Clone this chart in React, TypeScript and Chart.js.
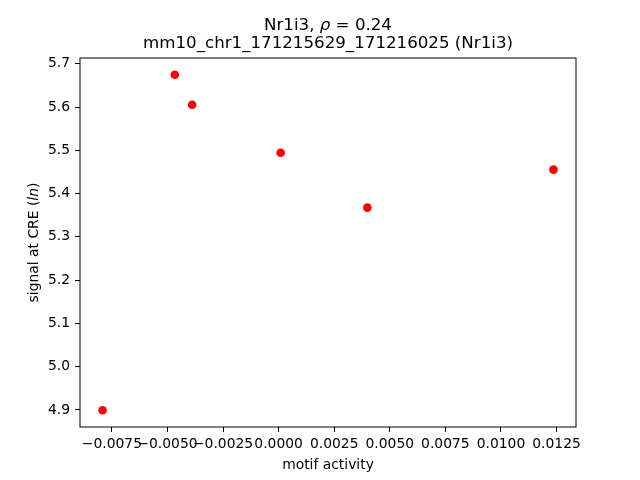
import React, { useEffect, useRef } from "react";
import { Chart, registerables } from "chart.js";

Chart.register(...registerables);

const motifActivity = [-0.00792, -0.00467, -0.00389, 0.00009, 0.00399, 0.01236];
const signalAtCRE = [4.8995, 5.6746, 5.6054, 5.4946, 5.3677, 5.4554];
const xTickValues = [-0.0075, -0.005, -0.0025, 0, 0.0025, 0.005, 0.0075, 0.01, 0.0125];
const yTickValues = [4.9, 5.0, 5.1, 5.2, 5.3, 5.4, 5.5, 5.6, 5.7];
const titleLine1 = [
  { text: "Nr1i3, ", italic: false },
  { text: "ρ", italic: true },
  { text: " = 0.24", italic: false },
];
const titleLine2 = "mm10_chr1_171215629_171216025 (Nr1i3)";
const xLabel = "motif activity";
const yLabel = [
  { text: "signal at CRE (", italic: false },
  { text: "ln", italic: true },
  { text: ")", italic: false },
];

const FONT = "'DejaVu Sans', 'Liberation Sans', sans-serif";

type Seg = { text: string; italic: boolean };

function drawSegs(ctx: CanvasRenderingContext2D, segs: Seg[], x: number, y: number, size: number) {
  let total = 0;
  const widths = segs.map((s) => {
    ctx.font = `${s.italic ? "italic " : ""}${size}px ${FONT}`;
    const w = ctx.measureText(s.text).width;
    total += w;
    return w;
  });
  let cx = x - total / 2;
  ctx.textAlign = "left";
  ctx.textBaseline = "alphabetic";
  segs.forEach((s, i) => {
    ctx.font = `${s.italic ? "italic " : ""}${size}px ${FONT}`;
    ctx.fillText(s.text, cx, y);
    cx += widths[i];
  });
}

const textPlugin = {
  id: "mplText",
  afterDraw(chart: any) {
    const { ctx, chartArea } = chart;
    const { left, right, top, bottom } = chartArea;
    const cx = (left + right) / 2;
    const cy = (top + bottom) / 2;
    ctx.save();
    ctx.strokeStyle = "#000";
    ctx.lineWidth = 1;
    ctx.strokeRect(left, top, right - left, bottom - top);
    ctx.fillStyle = "#000";
    drawSegs(ctx, titleLine1, cx, 30.3, 16.67);
    drawSegs(ctx, [{ text: titleLine2, italic: false }], cx, 48.3, 16.67);
    drawSegs(ctx, [{ text: xLabel, italic: false }], cx, 468.5, 13.89);
    ctx.translate(37.5, cy);
    ctx.rotate(-Math.PI / 2);
    drawSegs(ctx, yLabel, 0, 0, 13.89);
    ctx.restore();
  },
};

function fmtX(v: number) {
  const s = Math.abs(v).toFixed(4);
  return v < -1e-12 ? "\u2212" + s : s;
}

export default function App() {
  const ref = useRef<HTMLCanvasElement | null>(null);
  useEffect(() => {
    if (!ref.current) return;
    const chart = new Chart(ref.current, {
      type: "scatter",
      data: {
        datasets: [
          {
            data: motifActivity.map((x, i) => ({ x, y: signalAtCRE[i] })),
            backgroundColor: "#ff0000",
            borderColor: "#ff0000",
            pointRadius: 4.3,
            pointBorderWidth: 0,
          },
        ],
      },
      plugins: [textPlugin],
      options: {
        animation: false,
        responsive: false,
        devicePixelRatio: 1,
        layout: { padding: { top: 58, right: 64, left: 0, bottom: 0 } },
        plugins: { legend: { display: false }, title: { display: false }, tooltip: { enabled: false } },
        scales: {
          x: {
            type: "linear",
            min: -0.008934,
            max: 0.013374,
            afterFit: (s: any) => {
              s.height = 53;
            },
            afterBuildTicks: (s: any) => {
              s.ticks = xTickValues.map((v) => ({ value: v }));
            },
            border: { display: false },
            grid: { display: true, drawOnChartArea: false, drawTicks: true, tickLength: 5, color: "#000", lineWidth: 1 },
            ticks: {
              autoSkip: false,
              maxRotation: 0,
              minRotation: 0,
              padding: 4,
              color: "#000",
              font: { family: FONT, size: 13.89 },
              callback: (v: any) => fmtX(Number(v)),
            },
          },
          y: {
            type: "linear",
            min: 4.8607,
            max: 5.7134,
            afterFit: (s: any) => {
              s.width = 80;
            },
            afterBuildTicks: (s: any) => {
              s.ticks = yTickValues.map((v) => ({ value: v }));
            },
            border: { display: false },
            grid: { display: true, drawOnChartArea: false, drawTicks: true, tickLength: 5, color: "#000", lineWidth: 1 },
            ticks: {
              padding: 5,
              color: "#000",
              font: { family: FONT, size: 13.89 },
              callback: (v: any) => Number(v).toFixed(1),
            },
          },
        },
      },
    });
    return () => chart.destroy();
  }, []);
  return (
    <div style={{ position: "fixed", left: 0, top: 0, width: 640, height: 480, background: "#fff" }}>
      <canvas ref={ref} width={640} height={480} style={{ display: "block" }} />
    </div>
  );
}
